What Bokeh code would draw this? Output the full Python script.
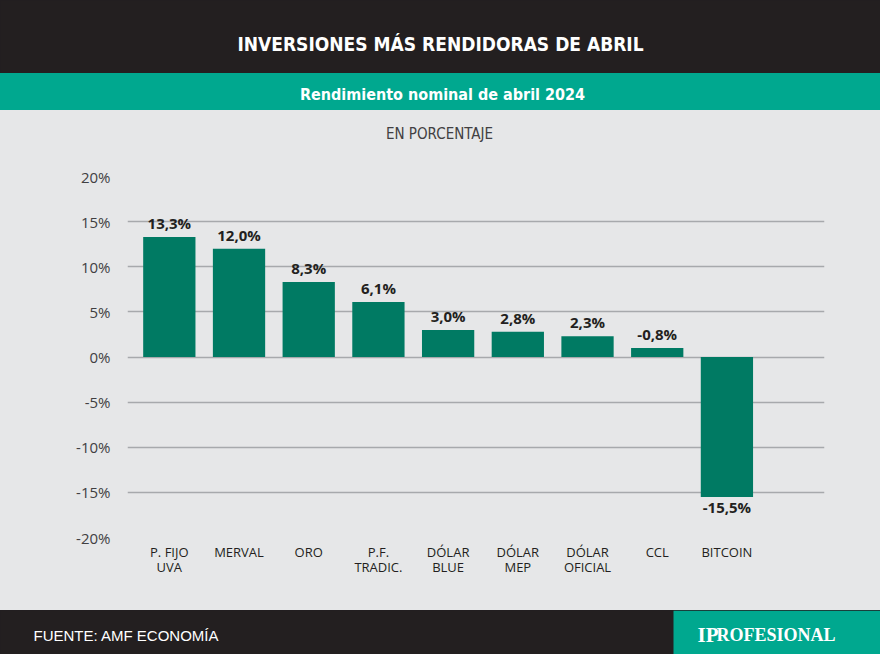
from bokeh.plotting import figure
from bokeh.models import Range1d, Label, FixedTicker, PrintfTickFormatter, ColumnDataSource, BoxAnnotation
from bokeh.layouts import column
from bokeh.embed import file_html
from bokeh.resources import INLINE
from bokeh.core.properties import value

# ---- data ----
categories = ["P. FIJO\nUVA", "MERVAL", "ORO", "P.F.\nTRADIC.", "DÓLAR\nBLUE",
              "DÓLAR\nMEP", "DÓLAR\nOFICIAL", "CCL", "BITCOIN"]
values = [13.3, 12.0, 8.3, 6.1, 3.0, 2.8, 2.3, 1.0, -15.5]
value_labels = ["13,3%", "12,0%", "8,3%", "6,1%", "3,0%", "2,8%", "2,3%", "-0,8%", "-15,5%"]
y_ticks = [-20, -15, -10, -5, 0, 5, 10, 15, 20]

TITLE = "INVERSIONES MÁS RENDIDORAS DE ABRIL"
SUBTITLE = "Rendimiento nominal de abril 2024"
NOTE = "EN PORCENTAJE"
SOURCE = "FUENTE: AMF ECONOMÍA"
BRAND_A = "IP"
BRAND_B = "ROFESIONAL"

# ---- style ----
W = 880
BLACK = "#231f20"
TEAL = "#00a88f"
GRAY = "#e6e7e8"
BAR = "#007a63"
GRID = "#a7a9ac"
TXT = "#231f20"
TICK = "#414042"
COND = "DejaVu Sans Condensed"
SANS = "Open Sans"


def band(h, color):
    f = figure(width=W, height=h, x_range=Range1d(0, W), y_range=Range1d(0, h),
               x_axis_type=None, y_axis_type=None, output_backend="svg",
               toolbar_location=None, min_border=0, outline_line_color=None,
               background_fill_color=color, border_fill_color=color, frame_align=False,
               styles={"background-color": color})
    f.grid.visible = False
    return f


header = band(73, BLACK)
header.add_layout(Label(x=440, y=30, text=TITLE, text_align="center", text_baseline="middle",
                        text_color="white", text_font=COND, text_font_style="bold",
                        text_font_size="19px"))

sub = band(37, TEAL)
sub.add_layout(Label(x=442, y=16, text=SUBTITLE, text_align="center", text_baseline="middle",
                     text_color="white", text_font=COND, text_font_style="bold",
                     text_font_size="16px"))

note = band(40, GRAY)
note.add_layout(Label(x=439, y=17, text=NOTE, text_align="center", text_baseline="middle",
                      text_color=TICK, text_font=COND, text_font_size="15px"))

# ---- main chart ----
idx = list(range(len(categories)))
p = figure(width=W, height=460, x_range=Range1d(-0.6, 9.4), y_range=Range1d(-20, 20),
           output_backend="svg", toolbar_location=None, frame_align=False,
           min_border_left=127, min_border_right=56, min_border_top=26, min_border_bottom=73,
           background_fill_color=GRAY, border_fill_color=GRAY, outline_line_color=None,
           styles={"background-color": GRAY})

p.vbar(x=idx, top=values, bottom=0, width=0.75, fill_color=BAR, line_color=None)

pos = [i for i in idx if values[i] >= 0]
neg = [i for i in idx if values[i] < 0]
src_pos = ColumnDataSource(dict(x=pos, y=[values[i] for i in pos], t=[value_labels[i] for i in pos]))
src_neg = ColumnDataSource(dict(x=neg, y=[values[i] for i in neg], t=[value_labels[i] for i in neg]))
p.text(x="x", y="y", text="t", source=src_pos, text_align="center", text_baseline="alphabetic",
       y_offset=-14, text_color=TXT, text_font=value(SANS), text_font_style="bold",
       text_font_size="15px")
p.text(x="x", y="y", text="t", source=src_neg, text_align="center", text_baseline="alphabetic",
       y_offset=10, text_color=TXT, text_font=value(SANS), text_font_style="bold",
       text_font_size="15px")

p.xgrid.visible = False
p.ygrid.ticker = FixedTicker(ticks=y_ticks)
p.ygrid.grid_line_color = GRID
p.ygrid.grid_line_width = 1.6

p.yaxis.ticker = FixedTicker(ticks=y_ticks)
p.yaxis.formatter = PrintfTickFormatter(format="%d%%")
p.yaxis.axis_line_color = None
p.yaxis.major_tick_line_color = None
p.yaxis.minor_tick_line_color = None
p.yaxis.major_tick_out = 0
p.yaxis.major_label_standoff = 17
p.yaxis.major_label_text_font = SANS
p.yaxis.major_label_text_font_size = "15px"
p.yaxis.major_label_text_color = TICK

p.xaxis.ticker = FixedTicker(ticks=idx)
p.xaxis.major_label_overrides = {i: c for i, c in zip(idx, categories)}
p.xaxis.axis_line_color = None
p.xaxis.major_tick_line_color = None
p.xaxis.minor_tick_line_color = None
p.xaxis.major_tick_out = 0
p.xaxis.major_label_standoff = 5
p.xaxis.major_label_text_font = SANS
p.xaxis.major_label_text_font_size = "13px"
p.xaxis.major_label_text_color = TXT
p.xaxis.major_label_text_line_height = 0.85

# ---- footer ----
foot = band(44, BLACK)
foot.add_layout(BoxAnnotation(left=673, right=W, bottom=0, top=44, fill_color=TEAL,
                              fill_alpha=1, line_color=None))
foot.add_layout(Label(x=33, y=19, text=SOURCE, text_align="left", text_baseline="middle",
                      text_color="white", text_font="Liberation Sans",
                      text_font_size="15px"))
foot.add_layout(Label(x=697, y=20, text=BRAND_A, text_align="left", text_baseline="alphabetic",
                      text_color="white", text_font="Liberation Serif",
                      text_font_style="bold", text_font_size="21px"))
foot.add_layout(Label(x=716, y=20, text=BRAND_B, text_align="left", text_baseline="alphabetic",
                      text_color="white", text_font="Liberation Serif",
                      text_font_style="bold", text_font_size="18px"))

layout = column(header, sub, note, p, foot, spacing=0)
open("out.html", "w").write(file_html(layout, INLINE))
